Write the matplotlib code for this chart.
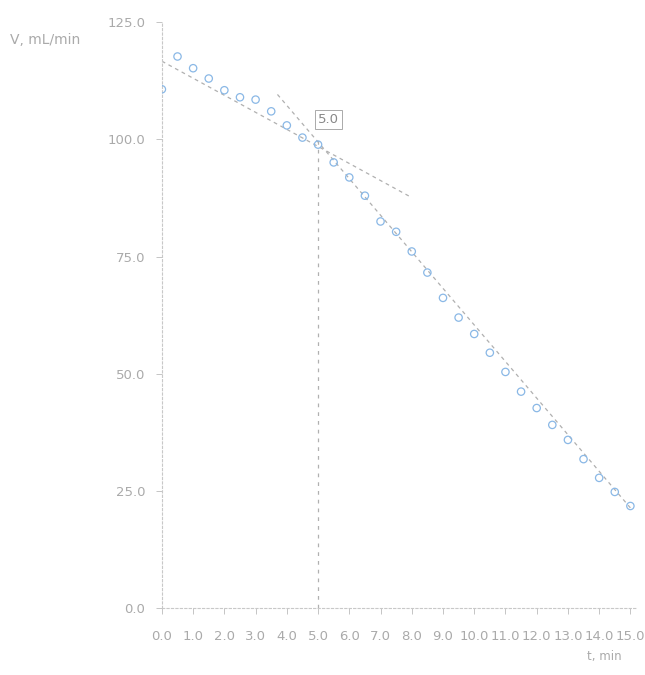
import matplotlib
matplotlib.use("Agg")
import matplotlib.pyplot as plt
import numpy as np

x_vals = [0.0, 0.5, 1.0, 1.5, 2.0, 2.5, 3.0, 3.5, 4.0, 4.5, 5.0, 5.5, 6.0, 6.5, 7.0, 7.5,
          8.0, 8.5, 9.0, 9.5, 10.0, 10.5, 11.0, 11.5, 12.0, 12.5, 13.0, 13.5, 14.0, 14.5, 15.0]
y_vals = [110.7, 117.7, 115.2, 113.0, 110.5, 109.0, 108.5, 106.0, 103.0, 100.4, 98.9, 95.1,
          91.9, 88.0, 82.5, 80.3, 76.1, 71.6, 66.2, 62.0, 58.5, 54.5, 50.4, 46.2, 42.7, 39.1,
          35.9, 31.8, 27.8, 24.8, 21.8]

fit1_x = [0.0, 8.0]
fit1_y = [116.7, 87.6]
fit2_x = [3.7, 15.0]
fit2_y = [109.6, 21.4]
break_x = 5.0
break_label = "5.0"

x_ticks = [float(i) for i in range(16)]
y_ticks = [0.0, 25.0, 50.0, 75.0, 100.0, 125.0]

fig = plt.figure(figsize=(6.45, 6.75), dpi=100)
ax = fig.add_axes([0.251, 0.099, 0.737, 0.868])

grey = "#b0b0b0"
ax.plot(fit1_x, fit1_y, linestyle=(0, (3, 3)), color=grey, lw=0.9)
ax.plot(fit2_x, fit2_y, linestyle=(0, (3, 3)), color=grey, lw=0.9)
ax.axvline(break_x, ymax=100.0/125, linestyle=(0, (3, 4)), color=grey, lw=0.9)
ax.scatter(x_vals, y_vals, s=28, facecolors="none", edgecolors="#8ab8e6", linewidths=0.9, zorder=3)

ax.text(break_x, 103.5, break_label, fontsize=9.5, color="#888888",
        bbox=dict(boxstyle="square,pad=0.25", fc="white", ec="#aaaaaa", lw=0.7))

ax.set_xlim(0, 15.22)
ax.set_ylim(0, 125)
ax.set_xticks(x_ticks)
ax.set_xticklabels([f"{v:.1f}" for v in x_ticks])
ax.set_yticks(y_ticks)
ax.set_yticklabels([f"{v:.1f}" for v in y_ticks])
ax.tick_params(colors="#bbbbbb", labelcolor="#aaaaaa", labelsize=9.5, length=4, width=0.6)
ax.tick_params(axis="x", pad=12)
ax.tick_params(axis="y", pad=8)

for s in ["top", "right"]:
    ax.spines[s].set_visible(False)
for s in ["left", "bottom"]:
    ax.spines[s].set_color("#c8c8c8")
    ax.spines[s].set_linestyle((0, (2, 2)))
    ax.spines[s].set_linewidth(0.8)

fig.text(0.015, 0.935, "V, mL/min", fontsize=10, color="#aaaaaa")
fig.text(0.91, 0.022, "t, min", fontsize=8.5, color="#aaaaaa")

fig.savefig("out.png", dpi=100)
